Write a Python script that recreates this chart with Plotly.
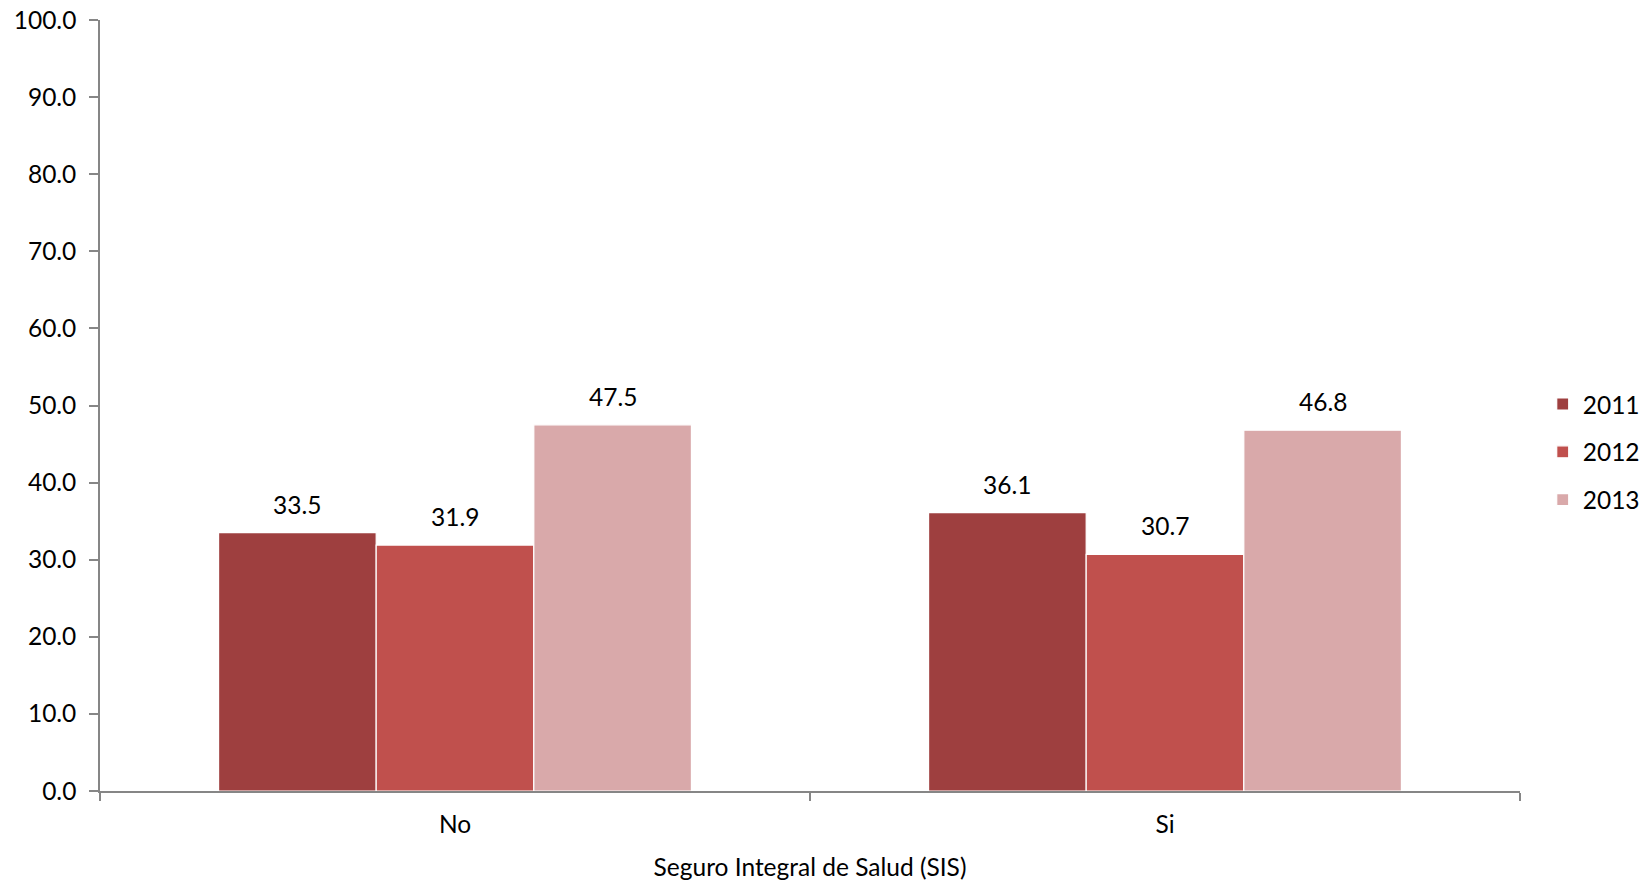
import plotly.graph_objects as go

categories = ["No", "Si"]
years = ["2011", "2012", "2013"]
values_2011 = [33.5, 36.1]
values_2012 = [31.9, 30.7]
values_2013 = [47.5, 46.8]
series_values = [values_2011, values_2012, values_2013]
colors = ["#9E3F3F", "#C0504D", "#D9A9AA"]
y_ticks = [0, 10, 20, 30, 40, 50, 60, 70, 80, 90, 100]

FONT = "Lato"
FS = 24.5
BARGAP = 0.334

fig = go.Figure()
for k, (yr, vals, col) in enumerate(zip(years, series_values, colors)):
    fig.add_trace(go.Bar(
        x=categories, y=vals, name=yr, legendgroup=yr,
        marker=dict(color=col, line=dict(color="white", width=1.2)),
    ))

# data labels placed over each grouped bar
n = len(years)
w = (1 - BARGAP) / n
for k, vals in enumerate(series_values):
    for i, v in enumerate(vals):
        xc = i - (1 - BARGAP) / 2 + w * (k + 0.5)
        fig.add_annotation(x=xc, y=v, text=f"{v:.1f}", showarrow=False,
                           yanchor="bottom", yshift=12,
                           font=dict(family=FONT, size=FS, color="black"))

fig.update_layout(
    width=1647, height=881,
    margin=dict(l=100, r=127, t=20, b=90, autoexpand=False),
    paper_bgcolor="white", plot_bgcolor="white",
    barmode="group", bargap=BARGAP, bargroupgap=0,
    font=dict(family=FONT, size=FS, color="black"),
    legend=dict(x=1.016, xanchor="left", y=0.531, yanchor="top",
                font=dict(family=FONT, size=FS), tracegroupgap=13,
                bgcolor="rgba(0,0,0,0)"),
    xaxis=dict(
        type="category", showline=True, linecolor="#868686", linewidth=1.5,
        ticks="outside", tickson="boundaries", ticklen=8, tickcolor="#868686",
        tickwidth=1.5, showgrid=False, ticklabelstandoff=11, automargin=False,
        title=dict(text="Seguro Integral de Salud (SIS)", standoff=22,
                   font=dict(family=FONT, size=FS)),
        range=[-0.5, 1.5],
    ),
    yaxis=dict(
        range=[0, 100], tickvals=y_ticks, tickformat=".1f",
        showline=True, linecolor="#868686", linewidth=1.5,
        ticks="outside", ticklen=9, tickcolor="#868686", tickwidth=1.5,
        showgrid=False, zeroline=False, ticklabelstandoff=8, automargin=False,
        ticklabeloverflow="allow",
    ),
)

fig.write_html("out.html", config={"displayModeBar": False},
               post_script="document.body.style.margin='0';")
